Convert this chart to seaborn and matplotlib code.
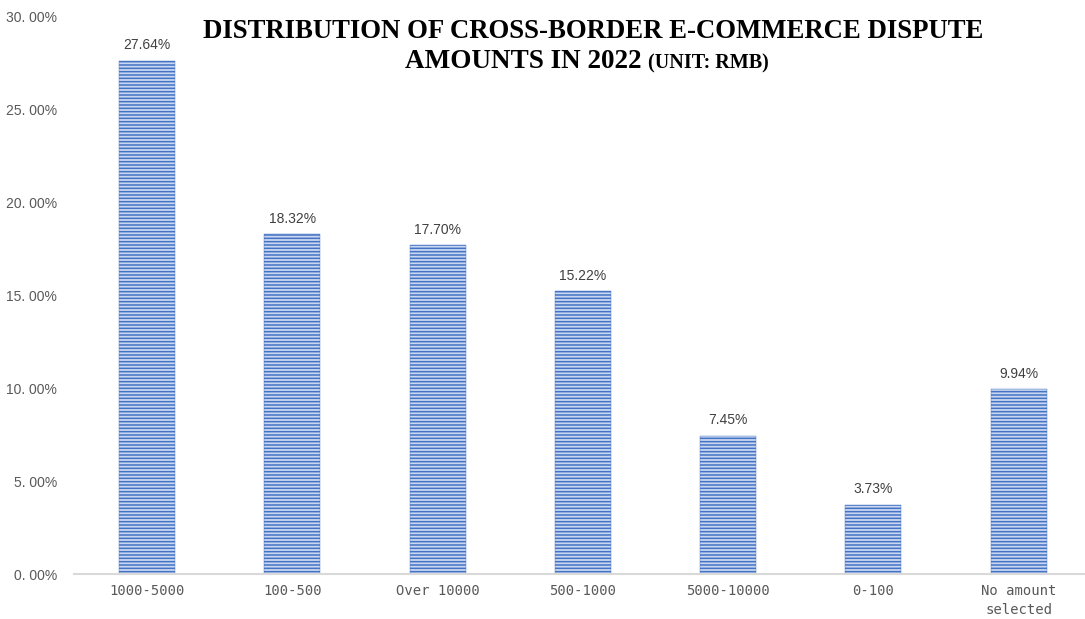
import matplotlib
matplotlib.use("Agg")
import matplotlib.pyplot as plt
import seaborn as sns
from matplotlib.ticker import FuncFormatter, MultipleLocator

categories = ["1000-5000", "100-500", "Over 10000", "500-1000", "5000-10000", "0-100", "No amount\nselected"]
values = [27.64, 18.32, 17.70, 15.22, 7.45, 3.73, 9.94]

sns.set_theme(style="white")
plt.rcParams["hatch.linewidth"] = 1.1

fig = plt.figure(figsize=(10.85, 6.19), dpi=100)
ax = fig.add_axes([74 / 1085, 1 - 574 / 619, 1 - 74 / 1085, (574 - 17) / 619])

sns.barplot(x=categories, y=values, color="#4472C4", width=0.385, saturation=1, ax=ax)
for p in ax.patches:
    p.set_facecolor("#C9D7F0")
    p.set_edgecolor("#4472C4")
    p.set_hatch("-----")
    p.set_linewidth(0.3)

for c in ax.containers:
    ax.bar_label(c, labels=[f"{v:.2f}%" for v in values], padding=6,
                 fontsize=10, color="#404040", family="Liberation Sans")

ax.set_ylim(0, 30)
ax.set_xlim(-0.502, 6.456)
ax.yaxis.set_major_locator(MultipleLocator(5))
ax.yaxis.set_major_formatter(FuncFormatter(lambda v, _: f"{v:.2f}%".replace(".", ". ")))
ax.tick_params(axis="y", length=0, pad=12, labelsize=10, labelcolor="#595959")
ax.tick_params(axis="x", length=0, pad=7, labelsize=10, labelcolor="#595959")
for lab in ax.get_yticklabels():
    lab.set_family("Liberation Sans")
for lab in ax.get_xticklabels():
    lab.set_family("DejaVu Sans Mono")
    lab.set_linespacing(1.5)
    lab.set_verticalalignment("top")

for s in ["left", "right", "top"]:
    ax.spines[s].set_visible(False)
ax.spines["bottom"].set_color("#D9D9D9")
ax.spines["bottom"].set_linewidth(1.5)
ax.grid(False)
ax.set_xlabel("")
ax.set_ylabel("")

fig.text(593 / 1085, 1 - 31 / 619, "DISTRIBUTION OF CROSS-BORDER E-COMMERCE DISPUTE",
         ha="center", va="center", fontsize=19.3, fontweight="bold",
         family="Liberation Serif", color="black")
t1 = fig.text(405 / 1085, 1 - 62 / 619, "AMOUNTS IN 2022 ", ha="left", va="center",
              fontsize=19.5, fontweight="bold", family="Liberation Serif", color="black")
fig.canvas.draw()
bb = t1.get_window_extent()
fig.text(bb.x1 / fig.bbox.width, 1 - 63 / 619, "(UNIT: RMB)", ha="left", va="center",
         fontsize=14.5, fontweight="bold", family="Liberation Serif", color="black")

fig.savefig("out.png", dpi=100)
